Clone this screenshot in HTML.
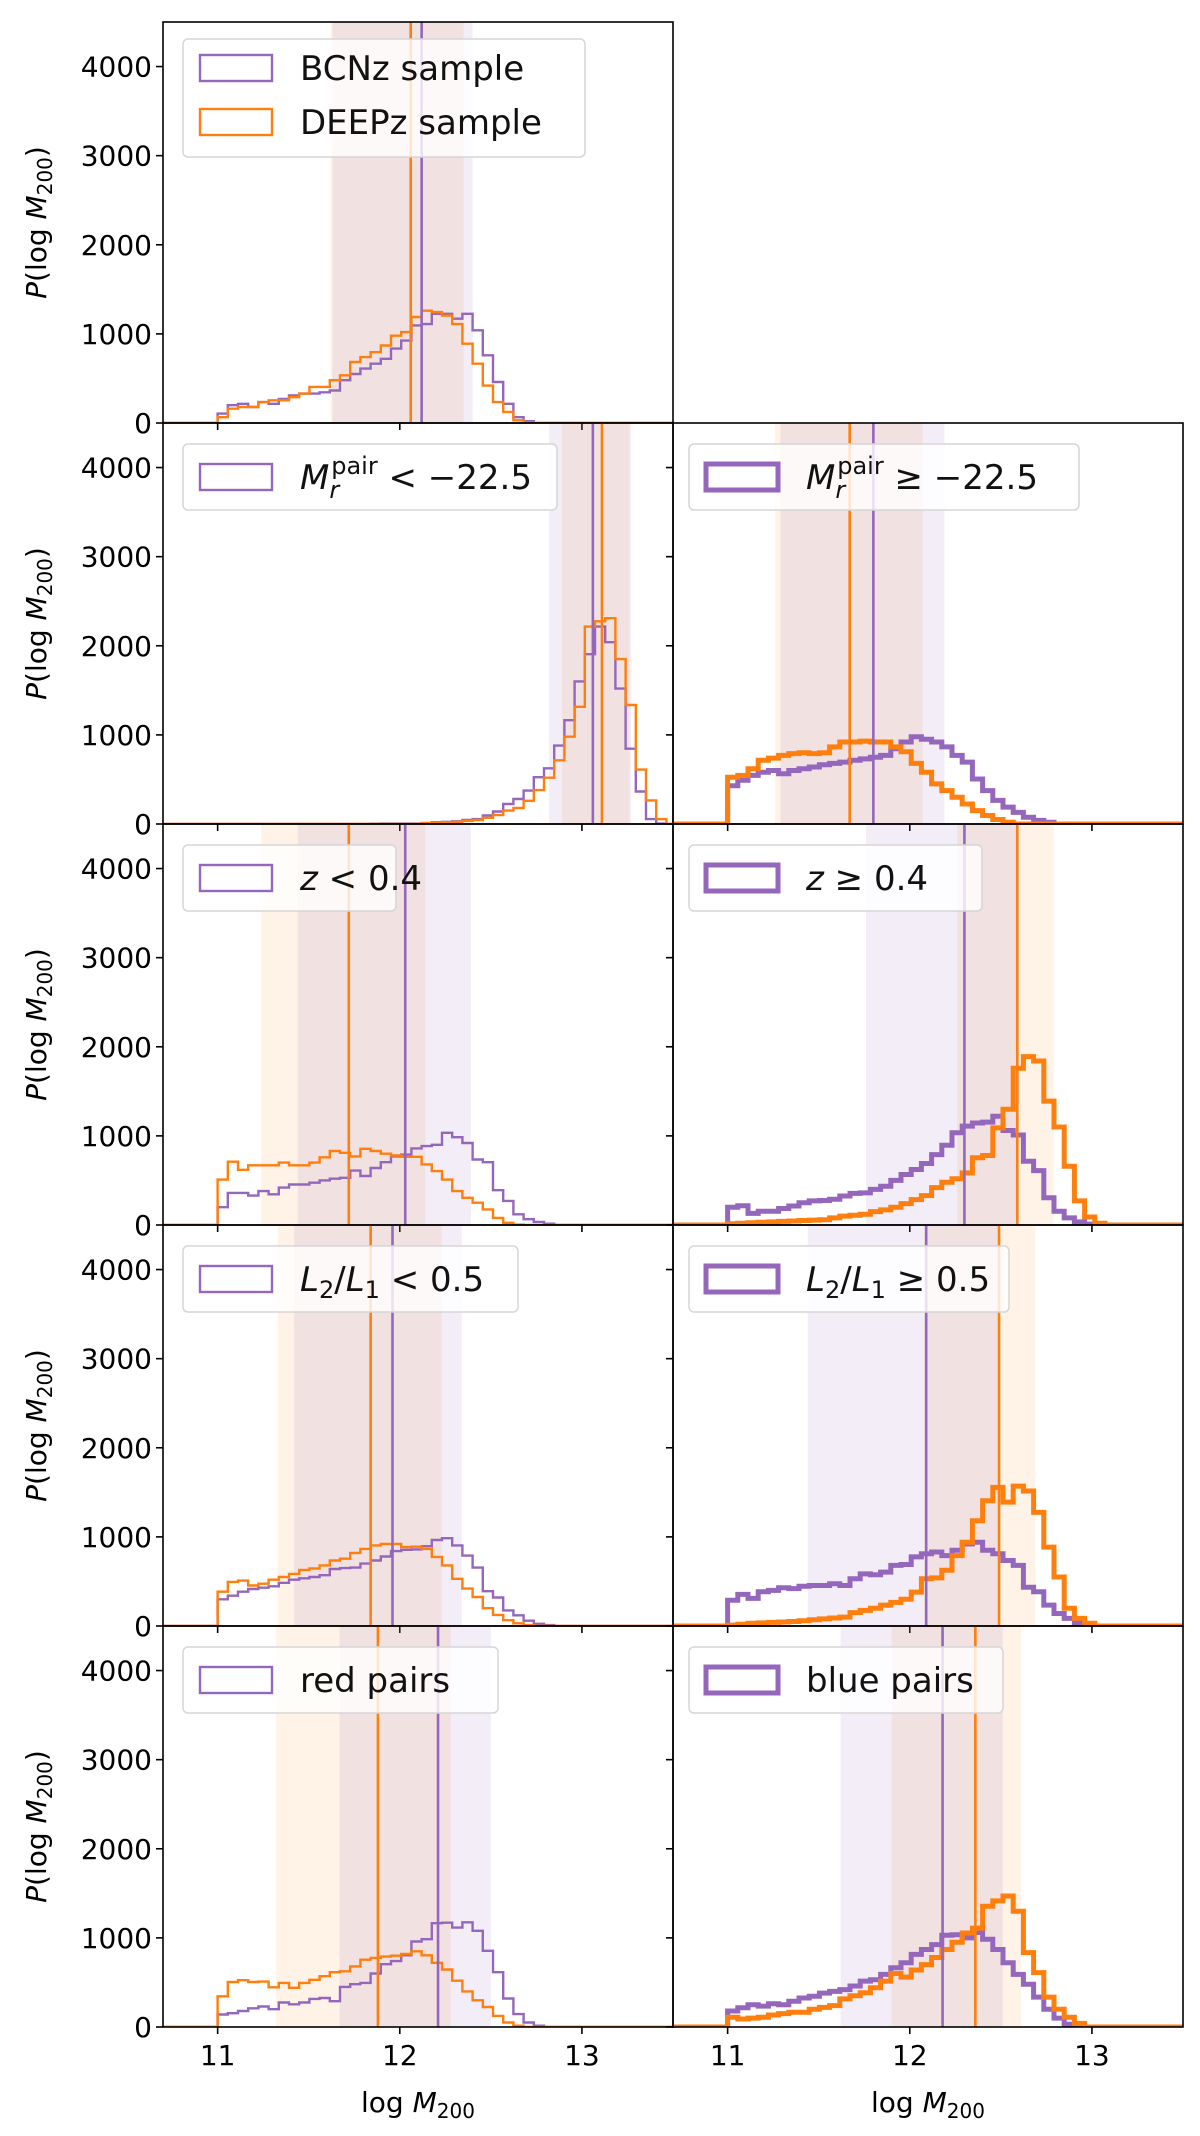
<!DOCTYPE html>
<html><head><meta charset="utf-8"><style>
html,body{margin:0;padding:0;background:#fff;}
svg{display:block;font-family:"DejaVu Sans","Liberation Sans",sans-serif;}
</style></head><body>
<svg id="fig" width="1200" height="2136" viewBox="0 0 1200 2136" xmlns="http://www.w3.org/2000/svg"></svg>
<script>
// ---- data (bins start at 11.0, width 0.056) ----
const binStart = 11.0;
const binWidth = 0.056;
const yTicks = [0, 1000, 2000, 3000, 4000];
const xTicks = [11, 12, 13];
const xTickLabels = ["11", "12", "13"];

const r1L_bcnz = [105,200,215,180,235,215,270,310,330,330,345,365,480,550,610,665,720,835,925,1095,1110,1225,1225,1170,1225,1040,760,460,215,65,20];
const r1L_deepz = [65,160,180,180,235,255,255,290,330,405,405,480,535,685,740,795,870,980,1020,1190,1260,1245,1205,1110,890,665,420,235,125,30,5];

const r2L_bcnz = [0,0,0,0,0,0,0,0,0,0,0,0,0,0,0,3,5,5,5,5,10,20,25,30,45,55,95,140,225,280,375,525,625,880,1165,1600,1905,2215,2040,1520,845,365,55,5];
const r2L_deepz = [0,0,0,0,0,0,0,0,0,0,0,0,0,0,0,0,0,0,0,0,10,15,20,25,35,45,70,100,150,180,260,380,520,715,980,1315,2215,2275,2310,1850,1335,610,265,55];
const r2R_bcnz = [430,490,545,580,600,565,600,620,640,665,680,695,715,730,750,770,845,920,980,950,920,865,770,695,505,375,265,190,130,75,40,20];
const r2R_deepz = [525,545,620,715,740,770,790,800,790,800,865,920,920,930,920,920,865,810,680,580,450,375,300,225,150,95,50,20];

const r3L_bcnz = [200,360,360,330,380,345,420,455,455,475,500,520,530,610,550,640,705,770,790,860,885,900,1035,985,920,735,705,390,270,120,65,35,15];
const r3L_deepz = [510,710,620,670,670,670,700,670,670,700,760,830,810,770,855,830,800,780,765,765,680,605,510,380,305,250,175,80,25,5];
const r3R_bcnz = [200,215,130,155,155,185,213,250,270,275,290,325,355,360,400,435,500,567,623,690,790,895,1035,1110,1145,1155,1220,1060,1010,715,610,305,155,80,35,10];
const r3R_deepz = [15,20,25,30,35,40,45,50,55,60,80,100,110,120,150,170,200,240,285,330,420,480,520,585,755,780,1090,1300,1760,1890,1840,1390,1100,660,270,90,20];

const r4L_bcnz = [300,340,385,415,430,445,485,520,535,550,570,640,650,655,700,735,780,840,855,860,895,965,985,905,790,655,390,320,175,120,60,25,10];
const r4L_deepz = [385,495,510,455,475,520,550,585,630,645,680,735,755,820,865,905,920,920,885,890,865,775,680,530,420,325,200,125,65,30,10];
const r4R_bcnz = [290,355,310,385,400,430,420,445,455,455,475,455,530,585,575,605,680,690,775,810,830,790,850,920,940,850,810,735,680,435,385,235,140,85,35,10];
const r4R_deepz = [10,20,30,35,40,45,50,60,70,80,90,100,150,175,200,235,265,300,380,530,540,625,790,940,1180,1405,1555,1390,1570,1515,1275,885,550,200,85,30];

const r5L_bcnz = [140,155,180,210,230,200,275,255,275,315,325,290,450,480,495,600,705,740,805,960,985,1165,1170,1115,1175,1080,855,615,320,145,50,15];
const r5L_deepz = [345,505,525,505,510,445,495,440,495,530,570,615,625,680,755,775,790,800,820,850,805,720,645,520,400,300,225,125,50,15];
const r5R_bcnz = [180,215,250,235,260,250,290,325,345,380,400,420,460,515,530,590,665,720,815,870,925,1030,1035,1000,1060,985,870,720,590,480,335,200,100,30];
const r5R_deepz = [110,90,100,110,135,150,165,165,200,220,240,315,350,385,440,515,600,560,640,700,780,870,950,1055,1110,1355,1415,1470,1300,835,610,335,200,110,40];

// medians (vertical lines) [BCNz, DEEPz]
const med_r1L = [12.12, 12.06];
const med_r2L = [13.06, 13.11];
const med_r2R = [11.80, 11.67];
const med_r3L = [12.03, 11.72];
const med_r3R = [12.30, 12.59];
const med_r4L = [11.96, 11.84];
const med_r4R = [12.09, 12.49];
const med_r5L = [12.21, 11.88];
const med_r5R = [12.18, 12.36];
// shaded intervals [lo, hi]
const band_r1L_bcnz = [11.63, 12.40], band_r1L_deepz = [11.62, 12.35];
const band_r2L_bcnz = [12.82, 13.27], band_r2L_deepz = [12.89, 13.26];
const band_r2R_bcnz = [11.29, 12.19], band_r2R_deepz = [11.26, 12.07];
const band_r3L_bcnz = [11.44, 12.39], band_r3L_deepz = [11.24, 12.14];
const band_r3R_bcnz = [11.76, 12.60], band_r3R_deepz = [12.26, 12.79];
const band_r4L_bcnz = [11.42, 12.34], band_r4L_deepz = [11.33, 12.23];
const band_r4R_bcnz = [11.44, 12.49], band_r4R_deepz = [12.08, 12.69];
const band_r5L_bcnz = [11.67, 12.50], band_r5L_deepz = [11.32, 12.28];
const band_r5R_bcnz = [11.62, 12.51], band_r5R_deepz = [11.90, 12.61];

// ---- layout ----
const NS = "http://www.w3.org/2000/svg";
const svg = document.getElementById("fig");
const XMIN = 10.7, XMAX = 13.5, YMAX = 4500;
const colX = [163, 673], PW = 510, PH = 401, TOP = 22;
const PURPLE = "#9467bd", ORANGE = "#ff7f0e";
function el(tag, attrs, parent) {
  const e = document.createElementNS(NS, tag);
  for (const k in attrs) e.setAttribute(k, attrs[k]);
  (parent || svg).appendChild(e);
  return e;
}
function xS(col, v) { return colX[col] + (v - XMIN) / (XMAX - XMIN) * PW; }
function yS(row, v) { return TOP + (row + 1) * PH - v / YMAX * PH; }

const panels = [
  {row:0,col:0,b:r1L_bcnz,d:r1L_deepz,m:med_r1L,bb:band_r1L_bcnz,bd:band_r1L_deepz,thick:false,name:"full-sample"},
  {row:1,col:0,b:r2L_bcnz,d:r2L_deepz,m:med_r2L,bb:band_r2L_bcnz,bd:band_r2L_deepz,thick:false,name:"bright-pairs"},
  {row:1,col:1,b:r2R_bcnz,d:r2R_deepz,m:med_r2R,bb:band_r2R_bcnz,bd:band_r2R_deepz,thick:true,name:"faint-pairs"},
  {row:2,col:0,b:r3L_bcnz,d:r3L_deepz,m:med_r3L,bb:band_r3L_bcnz,bd:band_r3L_deepz,thick:false,name:"low-z"},
  {row:2,col:1,b:r3R_bcnz,d:r3R_deepz,m:med_r3R,bb:band_r3R_bcnz,bd:band_r3R_deepz,thick:true,name:"high-z"},
  {row:3,col:0,b:r4L_bcnz,d:r4L_deepz,m:med_r4L,bb:band_r4L_bcnz,bd:band_r4L_deepz,thick:false,name:"low-lum-ratio"},
  {row:3,col:1,b:r4R_bcnz,d:r4R_deepz,m:med_r4R,bb:band_r4R_bcnz,bd:band_r4R_deepz,thick:true,name:"high-lum-ratio"},
  {row:4,col:0,b:r5L_bcnz,d:r5L_deepz,m:med_r5L,bb:band_r5L_bcnz,bd:band_r5L_deepz,thick:false,name:"red-pairs"},
  {row:4,col:1,b:r5R_bcnz,d:r5R_deepz,m:med_r5R,bb:band_r5R_bcnz,bd:band_r5R_deepz,thick:true,name:"blue-pairs"}
];

function stepPath(row, col, vals) {
  let p = "M" + xS(col, XMIN) + "," + yS(row, 0) + " L" + xS(col, binStart) + "," + yS(row, 0);
  vals.forEach((v, k) => {
    const x0 = xS(col, binStart + k * binWidth), x1 = xS(col, binStart + (k + 1) * binWidth);
    p += " L" + x0.toFixed(1) + "," + yS(row, v).toFixed(1) + " L" + x1.toFixed(1) + "," + yS(row, v).toFixed(1);
  });
  p += " L" + xS(col, binStart + vals.length * binWidth).toFixed(1) + "," + yS(row, 0) + " L" + xS(col, XMAX) + "," + yS(row, 0);
  return p;
}

const defs = el("defs", {});
panels.forEach((P, i) => {
  const cp = el("clipPath", {id: "clip" + i}, defs);
  el("rect", {x: colX[P.col], y: TOP + P.row * PH, width: PW, height: PH}, cp);
});

panels.forEach((P, i) => {
  const g = el("g", {"clip-path": "url(#clip" + i + ")"});
  
  
  const y0 = TOP + P.row * PH;
  const bandD = el("rect", {x: xS(P.col, P.bd[0]), y: y0, width: xS(P.col, P.bd[1]) - xS(P.col, P.bd[0]), height: PH, fill: ORANGE, "fill-opacity": 0.1}, g);
  
  
  const bandB = el("rect", {x: xS(P.col, P.bb[0]), y: y0, width: xS(P.col, P.bb[1]) - xS(P.col, P.bb[0]), height: PH, fill: PURPLE, "fill-opacity": 0.12}, g);
  
  
  const lw = P.thick ? 5 : 2.4;
  const hb = el("path", {d: stepPath(P.row, P.col, P.b), fill: "none", stroke: PURPLE, "stroke-width": lw, "stroke-linejoin": "miter"}, g);
  
  
  const hd = el("path", {d: stepPath(P.row, P.col, P.d), fill: "none", stroke: ORANGE, "stroke-width": lw, "stroke-linejoin": "miter"}, g);
  
  
  const vb = el("line", {x1: xS(P.col, P.m[0]), x2: xS(P.col, P.m[0]), y1: y0, y2: y0 + PH, stroke: PURPLE, "stroke-width": 2.6}, g);
  
  
  const vd = el("line", {x1: xS(P.col, P.m[1]), x2: xS(P.col, P.m[1]), y1: y0, y2: y0 + PH, stroke: ORANGE, "stroke-width": 2.6}, g);
  
  

  // frame
  const fr = el("rect", {x: colX[P.col], y: y0, width: PW, height: PH, fill: "none", stroke: "#000", "stroke-width": 1.6});
  
  
  // y ticks
  yTicks.forEach(t => {
    const tk = el("line", {x1: colX[P.col] - 7, x2: colX[P.col], y1: yS(P.row, t), y2: yS(P.row, t), stroke: "#000", "stroke-width": 1.6});
    
    
    if (P.col === 0) {
      const tl = el("text", {x: colX[0] - 11, y: yS(P.row, t) + 10, "text-anchor": "end", "font-size": 28, fill: "#000"});
      tl.textContent = String(t);
      
      
    }
  });
  xTicks.forEach((t, j) => {
    const tk = el("line", {x1: xS(P.col, t), x2: xS(P.col, t), y1: y0 + PH, y2: y0 + PH + 7, stroke: "#000", "stroke-width": 1.6});
    
    
    if (P.row === 4) {
      const tl = el("text", {x: xS(P.col, t), y: y0 + PH + 38, "text-anchor": "middle", "font-size": 28, fill: "#000"});
      tl.textContent = xTickLabels[j];
      
      
    }
  });
  if (P.col === 0) {
    const cy = y0 + PH / 2;
    const yl = el("text", {x: 0, y: 0, transform: "translate(46," + cy + ") rotate(-90)", "text-anchor": "middle", "font-size": 28, fill: "#000"});
    yl.innerHTML = '<tspan font-style="italic">P</tspan>(log <tspan font-style="italic">M</tspan><tspan font-size="20" dy="6">200</tspan><tspan dy="-6">)</tspan>';
    
    
  }
  if (P.row === 4) {
    const xl = el("text", {x: colX[P.col] + PW / 2, y: 2112, "text-anchor": "middle", "font-size": 28, fill: "#000"});
    xl.innerHTML = 'log <tspan font-style="italic">M</tspan><tspan font-size="20" dy="6">200</tspan>';
    
    
  }
});

// ---- legends ----
function legend(x, y, w, h, name) {
  const g = el("g", {});
  
  
  el("rect", {x: x, y: y, width: w, height: h, rx: 5, fill: "#fff", "fill-opacity": 0.8, stroke: "#d6d6d6", "stroke-width": 1.5}, g);
  return g;
}
function entry(g, x, cy, color, lw, html) {
  el("rect", {x: x + 17, y: cy - 13, width: 72, height: 26, fill: "none", stroke: color, "stroke-width": lw}, g);
  const t = el("text", {x: x + 117, y: cy + 12, "font-size": 34, fill: "#111"}, g);
  t.innerHTML = html;
}
let L = legend(183, 39, 402, 118, "legend-full-sample");
entry(L, 183, 68, PURPLE, 2.4, "BCNz sample");
entry(L, 183, 122, ORANGE, 2.4, "DEEPz sample");

const single = [
  [183, 444, 374, "legend-bright", PURPLE, 2.4, '<tspan font-style="italic">M</tspan><tspan font-style="italic" font-size="24" dy="9">r</tspan><tspan font-size="24" dx="-8" dy="-24">pair</tspan><tspan dy="15"> &lt; −22.5</tspan>'],
  [689, 444, 390, "legend-faint", PURPLE, 5, '<tspan font-style="italic">M</tspan><tspan font-style="italic" font-size="24" dy="9">r</tspan><tspan font-size="24" dx="-8" dy="-24">pair</tspan><tspan dy="15"> ≥ −22.5</tspan>'],
  [183, 845, 213, "legend-low-z", PURPLE, 2.4, '<tspan font-style="italic">z</tspan> &lt; 0.4'],
  [689, 845, 293, "legend-high-z", PURPLE, 5, '<tspan font-style="italic">z</tspan> ≥ 0.4'],
  [183, 1246, 335, "legend-low-lum-ratio", PURPLE, 2.4, '<tspan font-style="italic">L</tspan><tspan font-size="24" dy="7">2</tspan><tspan dy="-7">/</tspan><tspan font-style="italic">L</tspan><tspan font-size="24" dy="7">1</tspan><tspan dy="-7"> &lt; 0.5</tspan>'],
  [689, 1246, 320, "legend-high-lum-ratio", PURPLE, 5, '<tspan font-style="italic">L</tspan><tspan font-size="24" dy="7">2</tspan><tspan dy="-7">/</tspan><tspan font-style="italic">L</tspan><tspan font-size="24" dy="7">1</tspan><tspan dy="-7"> ≥ 0.5</tspan>'],
  [183, 1647, 315, "legend-red-pairs", PURPLE, 2.4, 'red pairs'],
  [689, 1647, 314, "legend-blue-pairs", PURPLE, 5, 'blue pairs']
];
single.forEach(s => {
  const g = legend(s[0], s[1], s[2], 66, s[3]);
  entry(g, s[0], s[1] + 33, s[4], s[5], s[6]);
});
</script>
</body></html>
